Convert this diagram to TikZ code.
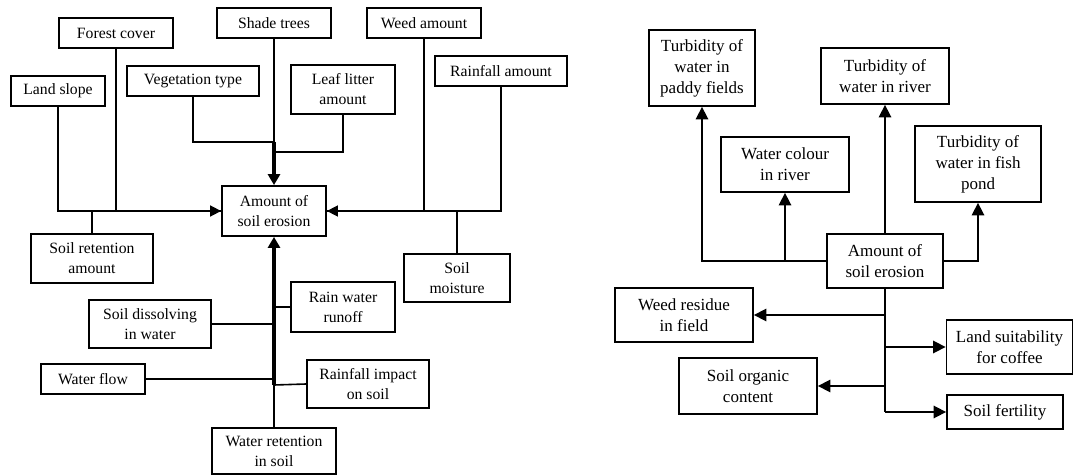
\documentclass[tikz,border=0pt]{standalone}
\usepackage{fontspec}
\setmainfont{Liberation Serif}
\usetikzlibrary{arrows.meta}
\tikzset{
  box/.style={draw, line width=1.8pt, rectangle, inner sep=0pt, align=center, font=\fontsize{15.7}{20}\selectfont},
  boxr/.style={box, font=\fontsize{17}{21}\selectfont},
  ln/.style={line width=1.6pt},
  arr/.style={ln, -{Triangle[length=11pt,width=11pt]}},
  arrr/.style={ln, -{Triangle[length=12.5pt,width=12.5pt]}},
  tarr/.style={line width=3.2pt, -{Triangle[length=11pt,width=12pt]}},
}
\begin{document}
\begin{tikzpicture}[x=1pt,y=-1pt]
\useasboundingbox (0,0) rectangle (1074,476);
% ---------- left diagram ----------
\node[box, minimum width=94pt, minimum height=30pt] (landslope) at (58,91) {Land slope};
\node[box, minimum width=114pt, minimum height=30pt] (forest) at (116,33) {Forest cover};
\node[box, minimum width=114pt, minimum height=30pt] (shade) at (274,23) {Shade trees};
\node[box, minimum width=132pt, minimum height=30pt] (veg) at (193,81) {Vegetation type};
\node[box, minimum width=104pt, minimum height=49pt] (leaf) at (343,89.5) {Leaf litter\\amount};
\node[box, minimum width=114pt, minimum height=30pt] (weed) at (424,23) {Weed amount};
\node[box, minimum width=132pt, minimum height=30pt] (rainamt) at (501,71) {Rainfall amount};
\node[box, minimum width=104pt, minimum height=50pt] (ero1) at (274,211) {Amount of\\soil erosion};
\node[box, minimum width=122pt, minimum height=49pt] (soilret) at (92,258.5) {Soil retention\\amount};
\node[box, minimum width=106pt, minimum height=48pt] (soilmoist) at (457,278) {Soil\\moisture};
\node[box, minimum width=104pt, minimum height=50pt] (runoff) at (343,307) {Rain water\\runoff};
\node[box, minimum width=122pt, minimum height=48pt] (dissolve) at (150,324) {Soil dissolving\\in water};
\node[box, minimum width=104pt, minimum height=30pt] (waterflow) at (93,379) {Water flow};
\node[box, minimum width=122pt, minimum height=48pt] (impact) at (368,384) {Rainfall impact\\on soil};
\node[box, minimum width=124pt, minimum height=46pt] (waterret) at (274,451) {Water retention\\in soil};

\coordinate (j1) at (274,142);
\coordinate (j2) at (274,152);
\coordinate (j3) at (274,385);

\draw[arr] (landslope.south) |- (ero1.west);
\draw[ln] (forest.south) |- (ero1.west);
\draw[ln] (soilret.north) -- (soilret.north |- ero1.west);
\draw[ln] (veg.south) |- (j1);
\draw[ln] (leaf.south) |- (j2);
\draw[ln] (shade.south) -- (j1);
\draw[tarr] (j1) -- (ero1.north);
\draw[arr] (rainamt.south) |- (ero1.east);
\draw[ln] (weed.south) |- (ero1.east);
\draw[ln] (soilmoist.north) -- (soilmoist.north |- ero1.east);
\draw[ln] (waterret.north) -- (j3);
\draw[tarr] (j3) -- (ero1.south);
\draw[ln] (runoff.west) -- (runoff.west -| j3);
\draw[ln] (dissolve.east) -- (dissolve.east -| j3);
\draw[ln] (waterflow.east) -- (waterflow.east -| j3);
\draw[ln] (impact.west) -- (j3);

% ---------- right diagram ----------
\node[boxr, minimum width=106pt, minimum height=76pt] (paddy) at (702,68) {Turbidity of\\water in\\paddy fields};
\node[boxr, minimum width=128pt, minimum height=56pt] (river) at (885,76) {Turbidity of\\water in river};
\node[boxr, minimum width=128pt, minimum height=55pt] (colour) at (785,164.5) {Water colour\\in river};
\node[boxr, minimum width=126pt, minimum height=76pt] (fish) at (978,164) {Turbidity of\\water in fish\\pond};
\node[boxr, minimum width=116pt, minimum height=54pt] (ero2) at (885,261) {Amount of\\soil erosion};
\node[boxr, minimum width=138pt, minimum height=54pt] (weedres) at (684,315) {Weed residue\\in field};
\node[boxr, minimum width=126pt, minimum height=54pt] (landsuit) at (1009.5,347) {Land suitability\\for coffee};
\node[boxr, minimum width=138pt, minimum height=56pt] (organic) at (748,386) {Soil organic\\content};
\node[boxr, minimum width=116pt, minimum height=34pt] (fertility) at (1005,412) {Soil fertility};

\coordinate (j4) at (885,412);

\draw[arrr] (ero2.west) -| (paddy.south);
\draw[arrr] (colour.south |- ero2.west) -- (colour.south);
\draw[arrr] (ero2.north) -- (river.south);
\draw[arrr] (ero2.east) -| (fish.south);
\draw[ln] (ero2.south) -- (j4);
\draw[arrr] (ero2.south |- weedres.east) -- (weedres.east);
\draw[arrr] (ero2.south |- landsuit.west) -- (landsuit.west);
\draw[arrr] (ero2.south |- organic.east) -- (organic.east);
\draw[arrr] (j4) -- (fertility.west);
\end{tikzpicture}
\end{document}
